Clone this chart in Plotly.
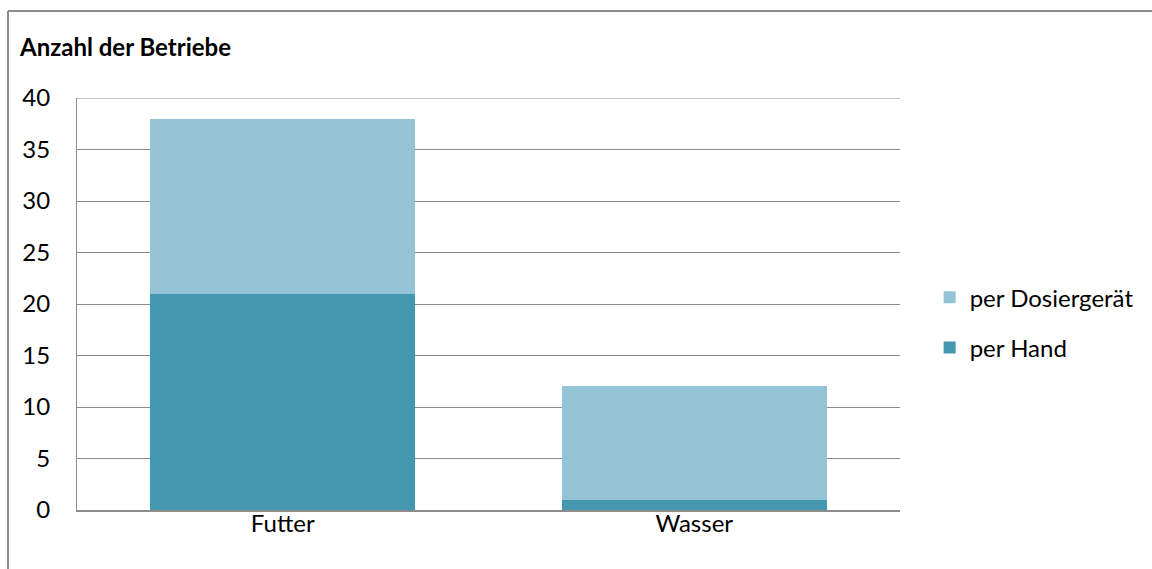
import plotly.graph_objects as go

categories = ["Futter", "Wasser"]
per_hand = [21, 1]
per_dosiergeraet = [17, 11]
y_ticks = [0, 5, 10, 15, 20, 25, 30, 35, 40]

FONT = "Lato, 'Open Sans', sans-serif"
FS = 24

fig = go.Figure()
fig.add_trace(go.Bar(x=categories, y=per_hand, name="per Hand",
                     marker=dict(color="#4398B0", line=dict(width=0)),
                     legendgroup="a", legendrank=2))
fig.add_trace(go.Bar(x=categories, y=per_dosiergeraet, name="per Dosiergerät",
                     marker=dict(color="#93C3D4", line=dict(width=0)),
                     legendgroup="b", legendrank=1))

fig.update_layout(
    width=1152, height=569,
    barmode="stack", bargap=0.356,
    plot_bgcolor="white", paper_bgcolor="white",
    margin=dict(l=77, r=252, t=98, b=59),
    font=dict(family=FONT, size=FS, color="#000000"),
    showlegend=True,
    legend=dict(x=1.036, y=0.57, xanchor="left", yanchor="top",
                traceorder="grouped", tracegroupgap=16,
                font=dict(size=FS), itemwidth=30, bgcolor="rgba(0,0,0,0)"),
    xaxis=dict(showline=True, linecolor="#8C8C8C", linewidth=2,
               showgrid=False, ticks="", tickfont=dict(size=FS),
               ticklabelstandoff=-9),
    yaxis=dict(range=[0, 40], tickvals=y_ticks, showline=True,
               linecolor="#8C8C8C", linewidth=1, showgrid=True,
               gridcolor="#8C8C8C", gridwidth=1, ticks="",
               ticklabelstandoff=21,
               tickfont=dict(size=FS), zeroline=False),
    annotations=[dict(text="<b>Anzahl der Betriebe</b>", xref="paper", yref="paper",
                      x=-0.073, y=1.125, xanchor="left", yanchor="middle",
                      showarrow=False, font=dict(size=FS, family=FONT))],
    shapes=[
        dict(type="line", xref="paper", yref="y", x0=0, x1=1, y0=40, y1=40,
             line=dict(color="#8C8C8C", width=1)),
        dict(type="line", xref="paper", yref="paper",
             x0=(8 - 77) / 823, x1=1.5, y0=(510 - 11) / 412, y1=(510 - 11) / 412,
             line=dict(color="#8C8C8C", width=2)),
        dict(type="line", xref="paper", yref="paper",
             x0=(8 - 77) / 823, x1=(8 - 77) / 823, y0=(510 - 11) / 412, y1=-0.5,
             line=dict(color="#8C8C8C", width=2)),
    ],
)

fig.write_html("out.html")
